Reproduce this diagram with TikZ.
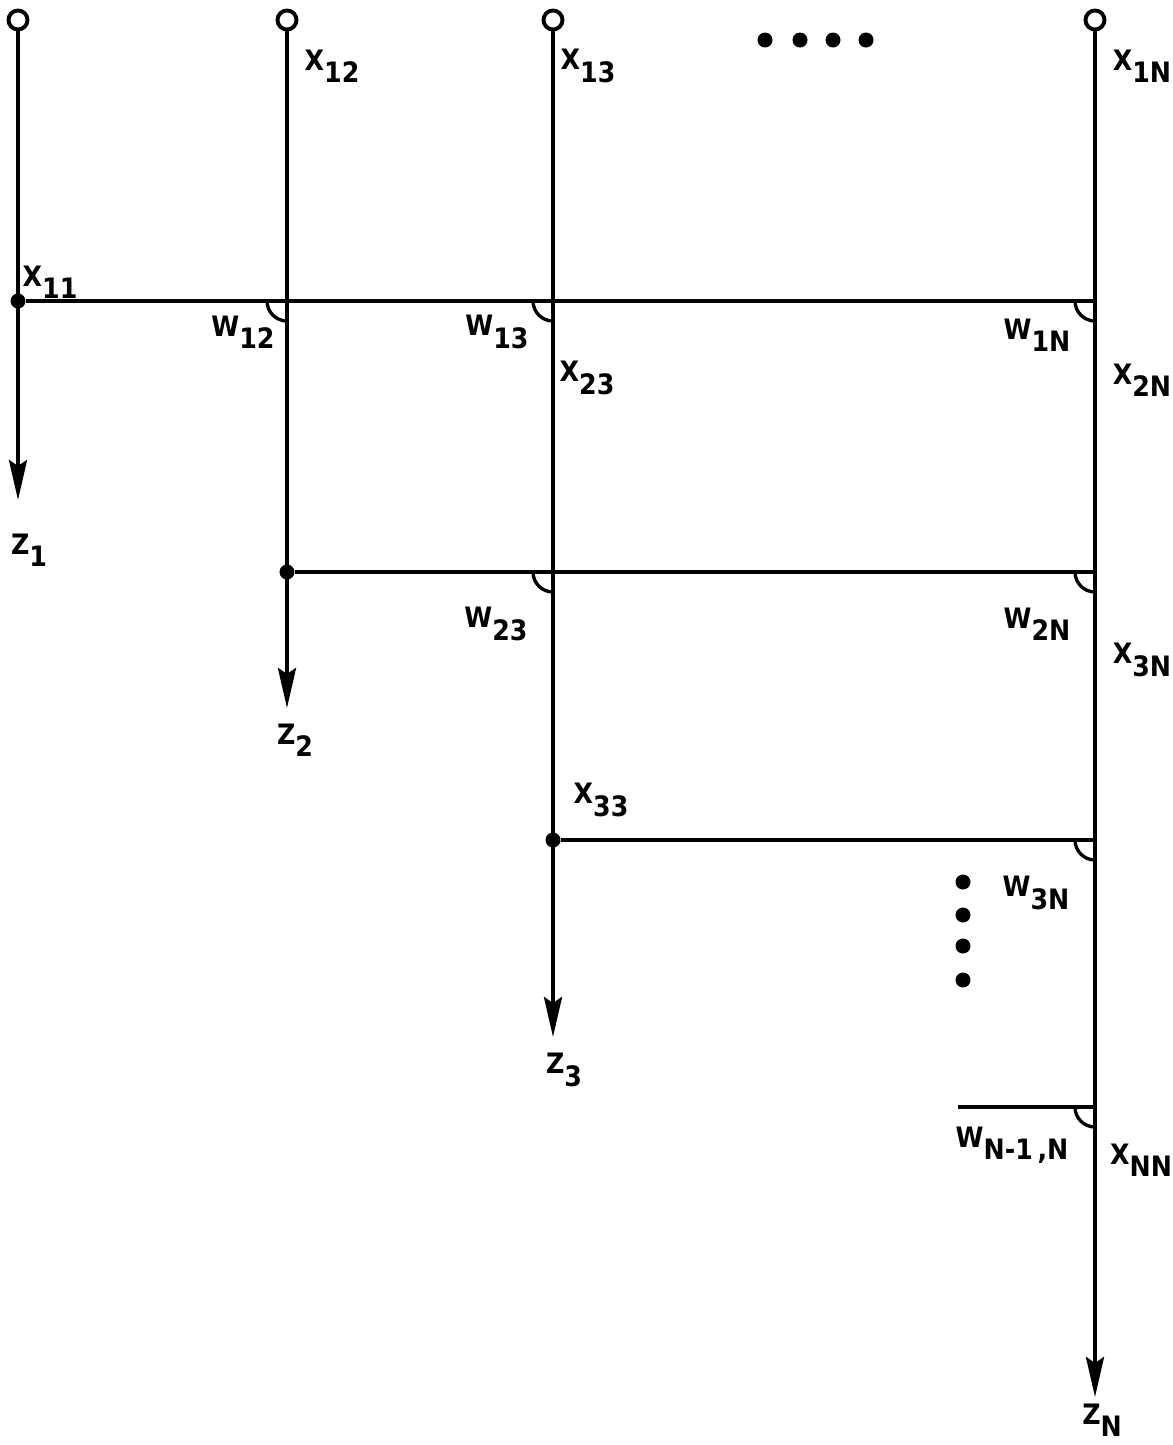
\documentclass[tikz,border=0pt]{standalone}
\usepackage{fontspec}
\setmainfont{DejaVu Sans Condensed}
\usetikzlibrary{arrows.meta,positioning}
\newcommand{\lbsub}[2]{#1\raisebox{-7pt}{#2}}

\begin{document}
\begin{tikzpicture}[x=0.02cm,y=-0.02cm]
    \tikzset{wire/.style={line width=2.3pt},
             flow/.style={wire,-{Stealth[length=0.8cm,width=0.36cm,inset=0.12cm]}},
             term/.style={draw,circle,line width=2.2pt,fill=white,
                          minimum size=0.38cm,inner sep=0pt},
             tap/.style={circle,fill,minimum size=0.3cm,inner sep=0pt},
             bullet/.style={circle,fill,minimum size=0.3cm,inner sep=0pt},
             wgt/.style={line width=1.9pt},
             lab/.style={font=\fontsize{16}{18}\selectfont\bfseries,inner sep=0pt}}
    \useasboundingbox (0,0) rectangle (1173,1445);

    % inputs, taps and outputs of every column
    \node[term] (in1) at (18,20) {};
    \node[term] (in2) at (287,20) {};
    \node[term] (in3) at (553,20) {};
    \node[term] (inN) at (1095,20) {};

    \node[tap] (t1) at (18,301) {};
    \node[tap] (t2) at (287,572) {};
    \node[tap] (t3) at (553,840) {};
    \coordinate (tN) at (958,1107);

    \coordinate (r1) at (1095,301);
    \coordinate (r2) at (1095,572);
    \coordinate (r3) at (1095,840);
    \coordinate (r4) at (1095,1107);

    \coordinate (out1) at (18,500);
    \coordinate (out2) at (287,708);
    \coordinate (out3) at (553,1037);
    \coordinate (outN) at (1095,1397);

    \draw[flow] (in1) -- (out1);
    \draw[flow] (in2) -- (out2);
    \draw[flow] (in3) -- (out3);
    \draw[flow] (inN) -- (outN);

    \draw[wire] (t1) -- (r1);
    \draw[wire] (t2) -- (r2);
    \draw[wire] (t3) -- (r3);
    \draw[wire] (tN) -- (r4);

    % weights at the crossings
    \foreach \x/\y in {287/301,553/301,1095/301,553/572,1095/572,1095/840,1095/1107}
        \draw[wgt] (\x-20,\y) arc (180:90:20);

    \foreach \x in {765,800,833,866}
        \node[bullet] (h\x) at (\x,40) {};
    \foreach \y in {882,915,946,980}
        \node[bullet] (v\y) at (963,\y) {};

    \node[lab] (x11) at (50,282) {\lbsub{X}{11}};
    \node[lab] (x12) at (332,66) {\lbsub{X}{12}};
    \node[lab] (x13) at (588,66) {\lbsub{X}{13}};
    \node[lab] (x1N) at (1142,66) {\lbsub{X}{1N}};
    \node[lab] (w12) at (243,332) {\lbsub{W}{12}};
    \node[lab] (w13) at (497,332) {\lbsub{W}{13}};
    \node[lab] (w1N) at (1037,335) {\lbsub{W}{1N}};
    \node[lab] (x23) at (587,378) {\lbsub{X}{23}};
    \node[lab] (x2N) at (1142,380) {\lbsub{X}{2N}};
    \node[lab] (z1) at (29,550) {\lbsub{Z}{1}};
    \node[lab] (w23) at (496,624) {\lbsub{W}{23}};
    \node[lab] (w2N) at (1037,624) {\lbsub{W}{2N}};
    \node[lab] (x3N) at (1142,660) {\lbsub{X}{3N}};
    \node[lab] (z2) at (295,740) {\lbsub{Z}{2}};
    \node[lab] (x33) at (601,800) {\lbsub{X}{33}};
    \node[lab] (w3N) at (1036,893) {\lbsub{W}{3N}};
    \node[lab] (z3) at (564,1070) {\lbsub{Z}{3}};
    \node[lab] (wNN) at (1012,1145) {\lbsub{W}{N-1\,,N}};
    \node[lab] (xNN) at (1141,1160) {\lbsub{X}{NN}};
    \node[lab] (zN) at (1102,1420) {\lbsub{Z}{N}};
\end{tikzpicture}
\end{document}
